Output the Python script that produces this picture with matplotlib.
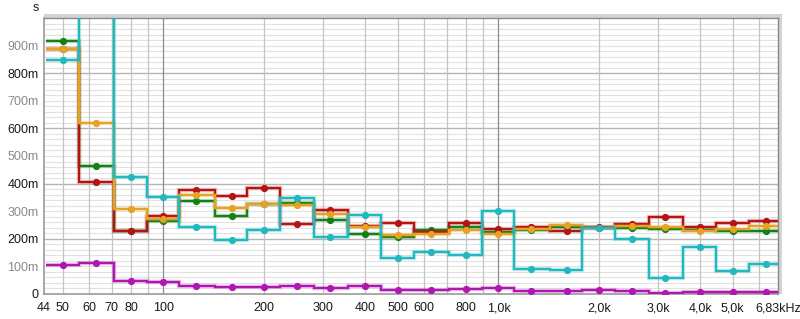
import numpy as np
import matplotlib
matplotlib.use("Agg")
import matplotlib.pyplot as plt
import matplotlib.patheffects as pe
from matplotlib.patches import Rectangle

# 1/3 octave band centres (Hz) and decay times (s)
centers = [50, 63, 80, 100, 125, 160, 200, 250, 315, 400, 500, 630,
           800, 1000, 1250, 1600, 2000, 2500, 3150, 4000, 5000, 6300]

green = [0.916, 0.462, 0.228, 0.264, 0.336, 0.282, 0.326, 0.331, 0.268, 0.217, 0.206,
         0.231, 0.243, 0.224, 0.232, 0.243, 0.238, 0.240, 0.237, 0.233, 0.228, 0.229]
red = [0.887, 0.406, 0.227, 0.281, 0.378, 0.356, 0.383, 0.253, 0.305, 0.248, 0.256,
       0.225, 0.259, 0.236, 0.242, 0.229, 0.242, 0.253, 0.279, 0.241, 0.259, 0.263]
orange = [0.887, 0.620, 0.307, 0.272, 0.357, 0.310, 0.326, 0.321, 0.291, 0.241, 0.213,
          0.218, 0.232, 0.219, 0.237, 0.250, 0.240, 0.245, 0.244, 0.228, 0.237, 0.245]
cyan = [0.846, 1.300, 0.425, 0.351, 0.244, 0.197, 0.233, 0.347, 0.208, 0.286, 0.131,
        0.153, 0.140, 0.301, 0.091, 0.086, 0.238, 0.200, 0.059, 0.172, 0.082, 0.110]
magenta = [0.104, 0.114, 0.047, 0.042, 0.030, 0.027, 0.026, 0.028, 0.020, 0.030, 0.015,
           0.016, 0.018, 0.020, 0.010, 0.010, 0.015, 0.011, 0.005, 0.006, 0.006, 0.006]

x_ticks = [44, 50, 60, 70, 80, 100, 200, 300, 400, 500, 600, 800,
           1000, 2000, 3000, 4000, 5000, 6830]
x_labels = ["44", "50", "60", "70", "80", "100", "200", "300", "400", "500", "600", "800",
            "1,0k", "2,0k", "3,0k", "4,0k", "5,0k", "6,83kHz"]
y_ticks = [0.0, 0.1, 0.2, 0.3, 0.4, 0.5, 0.6, 0.7, 0.8, 0.9]
y_labels = ["0", "100m", "200m", "300m", "400m", "500m", "600m", "700m", "800m", "900m"]

series = [
    (green, "#14801a"),
    (red, "#b41414"),
    (orange, "#e6a224"),
    (cyan, "#22b8be"),
    (magenta, "#b016b0"),
]

plt.rcParams['font.family'] = ['Liberation Sans', 'DejaVu Sans']

fig = plt.figure(figsize=(8.0, 3.19), dpi=100)
ax = fig.add_axes([0.055, 0.0784, 0.9175, 0.8652])
ax.set_xscale("log")
ax.set_xlim(44, 6830)
ax.set_ylim(0, 1.0)

# shadow frame behind the plot area
fig.patches.append(Rectangle((0.055, 0.0784), 0.9225, 0.879, transform=fig.transFigure,
                             facecolor="#d4d4d4", edgecolor="none", zorder=-1))
ax.set_facecolor("white")

# grid
for v in np.arange(0.02, 1.0, 0.02):
    if abs(v * 10 - round(v * 10)) < 1e-6 and round(v * 10) % 2 == 0:
        ax.axhline(v, color="#b4b4b4", lw=1.0, zorder=0)
    else:
        ax.axhline(v, color="#e2e2e2", lw=0.8, zorder=0)
vgrid = [50, 60, 70, 80, 90, 200, 300, 400, 500, 600, 700, 800, 900,
         2000, 3000, 4000, 5000, 6000]
for v in vgrid:
    ax.axvline(v, color="#c4c4c4", lw=0.9, zorder=0)
for v in [100, 1000]:
    ax.axvline(v, color="#8c8c8c", lw=0.9, zorder=0)

# band edges from centres
c = np.array(centers, dtype=float)
edges = np.concatenate([c / 2 ** (1 / 6), [c[-1] * 2 ** (1 / 6)]])

for vals, col in series:
    halo = [pe.Stroke(linewidth=3.2, foreground=col, alpha=0.25), pe.Normal()]
    ax.stairs(vals, edges, color=col, lw=1.6, baseline=None, zorder=3, path_effects=halo)
    ax.plot(centers, vals, "o", color=col, ms=4.2, zorder=4, clip_on=True)

ax.set_xticks(x_ticks)
ax.set_xticklabels(x_labels)
ax.xaxis.set_minor_locator(matplotlib.ticker.NullLocator())
ax.set_yticks(y_ticks)
ax.set_yticklabels(y_labels)
ax.tick_params(axis="both", length=0, labelsize=9, colors="#1a1a1a")
ax.tick_params(axis="x", pad=6)
ax.tick_params(axis="y", pad=4)
for i, lab in enumerate(ax.get_yticklabels()):
    if i % 2 == 1:
        lab.set_color("#8a8a8a")

for side in ["left", "bottom"]:
    ax.spines[side].set_color("#9a9a9a")
    ax.spines[side].set_linewidth(1.2)
for side in ["top", "right"]:
    ax.spines[side].set_color("#8a8a8a")
    ax.spines[side].set_linewidth(1.0)

fig.text(0.045, 0.975, "s", fontsize=9, ha="center", va="center", color="#1a1a1a")

fig.savefig("out.png", dpi=100)
